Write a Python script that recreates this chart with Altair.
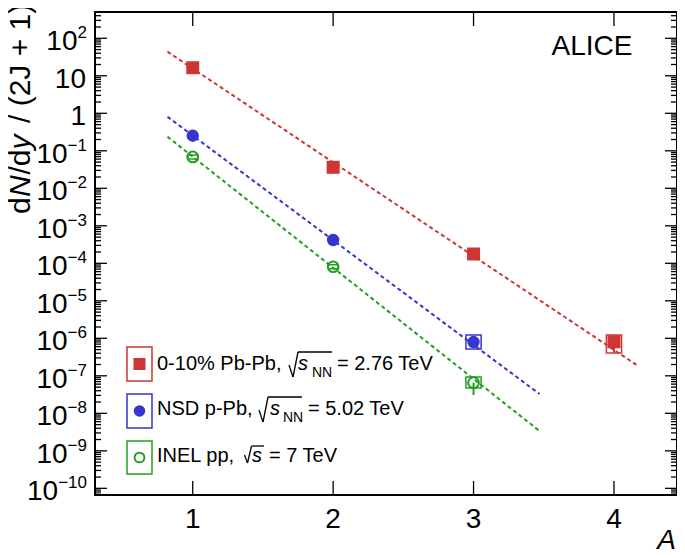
import altair as alt
import pandas as pd

# ---------------- data ----------------
series = ["pbpb", "ppb", "pp"]
colors = ["#d03535", "#3535d0", "#20a020"]

A_pbpb = [1, 2, 3, 4]
y_pbpb = [16.4, 0.0363, 1.77e-4, 8.1e-7]
A_ppb = [1, 2, 3]
y_ppb = [0.253, 4.18e-4, 7.96e-7]
A_pp = [1, 2, 3]
y_pp = [0.0684, 8.1e-5, 6.55e-8]

# exponential fits (straight in log space): end points
fit_A = {"pbpb": [0.82, 4.16], "ppb": [0.82, 3.47], "pp": [0.82, 3.47]}
fit_y = {"pbpb": [44.0, 1.96e-7], "ppb": [0.81, 3.27e-8], "pp": [0.238, 3.37e-9]}

# systematic boxes (wide)
sysw_series = ["pbpb", "ppb", "pp"]
sysw_A = [4, 3, 3]
sysw_lo = [4.06e-7, 5.19e-7, 4.73e-8]
sysw_hi = [1.22e-6, 1.22e-6, 9.3e-8]
# systematic boxes (narrow, inside open circles)
sysn_series = ["pp", "pp"]
sysn_A = [1, 2]
sysn_lo = [0.0605, 7.2e-5]
sysn_hi = [0.0773, 9.1e-5]
# statistical errors visible
stat_series = ["pbpb", "pp"]
stat_A = [4, 3]
stat_lo = [4.06e-7, 3.08e-8]
stat_hi = [8.1e-7, 6.55e-8]

x_ticks = [1, 2, 3, 4]
x_labels = ["1", "2", "3", "4"]
ytick_vals = [1e2, 1e1, 1e0, 1e-1, 1e-2, 1e-3, 1e-4, 1e-5, 1e-6, 1e-7, 1e-8, 1e-9, 1e-10]
ytick_base = ["10", "10", "1", "10", "10", "10", "10", "10", "10", "10", "10", "10", "10"]
ytick_exp = ["2", "", "", "\u22121", "\u22122", "\u22123", "\u22124", "\u22125", "\u22126",
             "\u22127", "\u22128", "\u22129", "\u221210"]

legend_prefix = ["0-10% Pb-Pb,", "NSD p-Pb,", "INEL pp,"]
legend_var = ["s", "s", "s"]
legend_sub = ["NN", "NN", ""]
legend_suffix = ["= 2.76 TeV", "= 5.02 TeV", "= 7 TeV"]

title_pieces = ["d", "N", "/d", "y", "/ (2J + 1)"]
title_italic = [False, True, False, True, False]

# ---------------- layout ----------------
W, H = 582, 483
YLO, YHI = 10 ** -10.178, 10 ** 2.701
FONT = "Liberation Sans, Arial, Helvetica, sans-serif"
xsc = alt.Scale(domain=[0.304, 4.449], nice=False, zero=False)
ysc = alt.Scale(type="log", domain=[YLO, YHI], nice=False)
cscale = alt.Scale(domain=series, range=colors)


def X(f):
    return alt.X(f, type="quantitative", scale=xsc, axis=None)


def Y(f):
    return alt.Y(f, type="quantitative", scale=ysc, axis=None)


def one():
    return alt.Chart(pd.DataFrame({"k": [0]}))


def seg(x0, y0, x1, y1, color="black", sw=1.3):
    # page -> chart coordinates
    return one().mark_rule(color=color, strokeWidth=sw).encode(
        x=alt.value(x0 - 95), y=alt.value(y0 - 12), x2=alt.value(x1 - 95), y2=alt.value(y1 - 12))


layers = []

# fit lines
rows = []
for s in series:
    for a, v in zip(fit_A[s], fit_y[s]):
        rows.append({"s": s, "A": a, "v": v})
layers.append(
    alt.Chart(pd.DataFrame(rows)).mark_line(strokeDash=[4, 3], strokeWidth=2).encode(
        x=X("A"), y=Y("v"), color=alt.Color("s:N", scale=cscale, legend=None), detail="s:N")
)

# systematic boxes
dfw = pd.DataFrame({"s": sysw_series, "A": sysw_A, "lo": sysw_lo, "hi": sysw_hi})
layers.append(
    alt.Chart(dfw).transform_calculate(a1="datum.A - 0.054", a2="datum.A + 0.054")
    .mark_rect(fillOpacity=0, strokeWidth=1.5).encode(
        x=X("a1"), x2="a2:Q", y=Y("lo"), y2="hi:Q",
        stroke=alt.Color("s:N", scale=cscale, legend=None))
)
dfn = pd.DataFrame({"s": sysn_series, "A": sysn_A, "lo": sysn_lo, "hi": sysn_hi})
layers.append(
    alt.Chart(dfn).transform_calculate(a1="datum.A - 0.035", a2="datum.A + 0.035")
    .mark_rect(fillOpacity=0, strokeWidth=1.5).encode(
        x=X("a1"), x2="a2:Q", y=Y("lo"), y2="hi:Q",
        stroke=alt.Color("s:N", scale=cscale, legend=None))
)
dfs = pd.DataFrame({"s": stat_series, "A": stat_A, "lo": stat_lo, "hi": stat_hi})
layers.append(
    alt.Chart(dfs).mark_rule(strokeWidth=2).encode(
        x=X("A"), y=Y("lo"), y2="hi:Q",
        color=alt.Color("s:N", scale=cscale, legend=None))
)

# markers
layers.append(alt.Chart(pd.DataFrame({"A": A_pbpb, "v": y_pbpb})).mark_point(
    shape="square", filled=True, size=169, color=colors[0], opacity=1).encode(x=X("A"), y=Y("v")))
layers.append(alt.Chart(pd.DataFrame({"A": A_ppb, "v": y_ppb})).mark_point(
    shape="circle", filled=True, size=154, color=colors[1], opacity=1).encode(x=X("A"), y=Y("v")))
layers.append(alt.Chart(pd.DataFrame({"A": A_pp, "v": y_pp})).mark_point(
    shape="circle", filled=False, size=115, strokeWidth=2, color=colors[2], opacity=1).encode(
        x=X("A"), y=Y("v")))

# ticks
major = ytick_vals
minor = [m * 10.0 ** k for k in range(-11, 3) for m in range(2, 10) if YLO <= m * 10.0 ** k <= YHI]
for vals, ln in [(major, 12), (minor, 6)]:
    d = pd.DataFrame({"v": vals})
    layers.append(alt.Chart(d).mark_rule(color="black", strokeWidth=1.3).encode(
        y=Y("v"), x=alt.value(0), x2=alt.value(ln)))
    layers.append(alt.Chart(d).mark_rule(color="black", strokeWidth=1.3).encode(
        y=Y("v"), x=alt.value(W - ln), x2=alt.value(W)))
dx = pd.DataFrame({"a": x_ticks, "t": x_labels})
layers.append(alt.Chart(dx).mark_rule(color="black", strokeWidth=1.3).encode(
    x=X("a"), y=alt.value(H), y2=alt.value(H - 14)))
layers.append(alt.Chart(dx).mark_rule(color="black", strokeWidth=1.3).encode(
    x=X("a"), y=alt.value(0), y2=alt.value(14)))

# x labels
layers.append(alt.Chart(dx).mark_text(font=FONT, fontSize=28, align="center", baseline="alphabetic",
                                      color="black").encode(x=X("a"), y=alt.value(H + 33), text="t:N"))

# y labels
dy = pd.DataFrame({"v": ytick_vals, "b": ytick_base, "e": ytick_exp})
layers.append(alt.Chart(dy).mark_text(font=FONT, fontSize=17, align="right", baseline="alphabetic",
                                      color="black").encode(x=alt.value(-8), y=Y("v"), text="e:N"))
for n, xr in [(0, -9), (1, -17.5), (2, -27.4), (3, -36.8)]:
    layers.append(alt.Chart(dy).transform_filter(f"length(datum.e) == {n}").mark_text(
        font=FONT, fontSize=28, align="right", baseline="alphabetic", color="black", dy=12).encode(
        x=alt.value(xr), y=Y("v"), text="b:N"))

# y title in pieces (rotated, reading upwards)
title_page_y = [214, 197, 174.5, 149.5, 123]
for t, it, yy in zip(title_pieces, title_italic, title_page_y):
    layers.append(alt.Chart(pd.DataFrame({"t": [t]})).mark_text(
        font=FONT, fontSize=30, fontStyle="italic" if it else "normal", angle=270,
        align="left", baseline="alphabetic", color="black").encode(
        x=alt.value(-65), y=alt.value(yy - 12), text="t:N"))

# x title
layers.append(alt.Chart(pd.DataFrame({"t": ["A"]})).mark_text(
    font=FONT, fontSize=28, fontStyle="italic", align="right", baseline="alphabetic",
    color="black").encode(x=alt.value(W - 1), y=alt.value(H + 54), text="t:N"))

# ALICE
layers.append(alt.Chart(pd.DataFrame({"t": ["ALICE"]})).mark_text(
    font=FONT, fontSize=28, align="center", baseline="alphabetic", color="black").encode(
    x=alt.value(497), y=alt.value(43), text="t:N"))

# legend
box_y = [(335, 369), (382, 416), (429, 462)]
mk_y = [352, 399, 445.5]
base_y = [358, 403, 450]
var_x = [203, 175, 157]
sub_x = [217, 188, 0]
suf_x = [242, 213, 174]
# radical strokes (page coords): hook start, bottom, top, overline end
rad = [
    [(289, 365), (293, 377), (298, 352), (332, 352)],
    [(259, 410), (263, 422), (268, 397), (302, 397)],
    [(244.5, 455), (247.5, 463), (251.5, 446), (264, 446)],
]
mk_shape = [("square", True, 144), ("circle", True, 133), ("circle", False, 95)]
for i in range(3):
    c = colors[i]
    layers.append(one().mark_rect(fillOpacity=0, stroke=c, strokeWidth=1.5).encode(
        x=alt.value(32), x2=alt.value(57), y=alt.value(box_y[i][0]), y2=alt.value(box_y[i][1])))
    sh, fl, sz = mk_shape[i]
    layers.append(one().mark_point(shape=sh, filled=fl, size=sz, color=c, opacity=1,
                                   strokeWidth=2).encode(x=alt.value(44.5), y=alt.value(mk_y[i])))
    txt = dict(font=FONT, fontSize=20, align="left", baseline="alphabetic", color="black")
    layers.append(alt.Chart(pd.DataFrame({"t": [legend_prefix[i]]})).mark_text(**txt).encode(
        x=alt.value(62), y=alt.value(base_y[i]), text="t:N"))
    pts = rad[i]
    for (x0, y0), (x1, y1) in zip(pts[:-1], pts[1:]):
        layers.append(seg(x0, y0, x1, y1))
    layers.append(alt.Chart(pd.DataFrame({"t": [legend_var[i]]})).mark_text(
        **dict(txt, fontStyle="italic")).encode(
        x=alt.value(var_x[i]), y=alt.value(base_y[i]), text="t:N"))
    if legend_sub[i]:
        layers.append(alt.Chart(pd.DataFrame({"t": [legend_sub[i]]})).mark_text(
            **dict(txt, fontSize=14)).encode(
            x=alt.value(sub_x[i]), y=alt.value(base_y[i] + 7), text="t:N"))
    layers.append(alt.Chart(pd.DataFrame({"t": [legend_suffix[i]]})).mark_text(**txt).encode(
        x=alt.value(suf_x[i]), y=alt.value(base_y[i]), text="t:N"))

chart = alt.layer(*layers).properties(
    width=W, height=H,
    autosize=alt.AutoSizeParams(type="none"),
    padding={"left": 87, "top": 4, "right": 0, "bottom": 55},
).configure_view(stroke="black", strokeWidth=2)

chart.save("out.html", embed_options={"renderer": "svg", "actions": False})
